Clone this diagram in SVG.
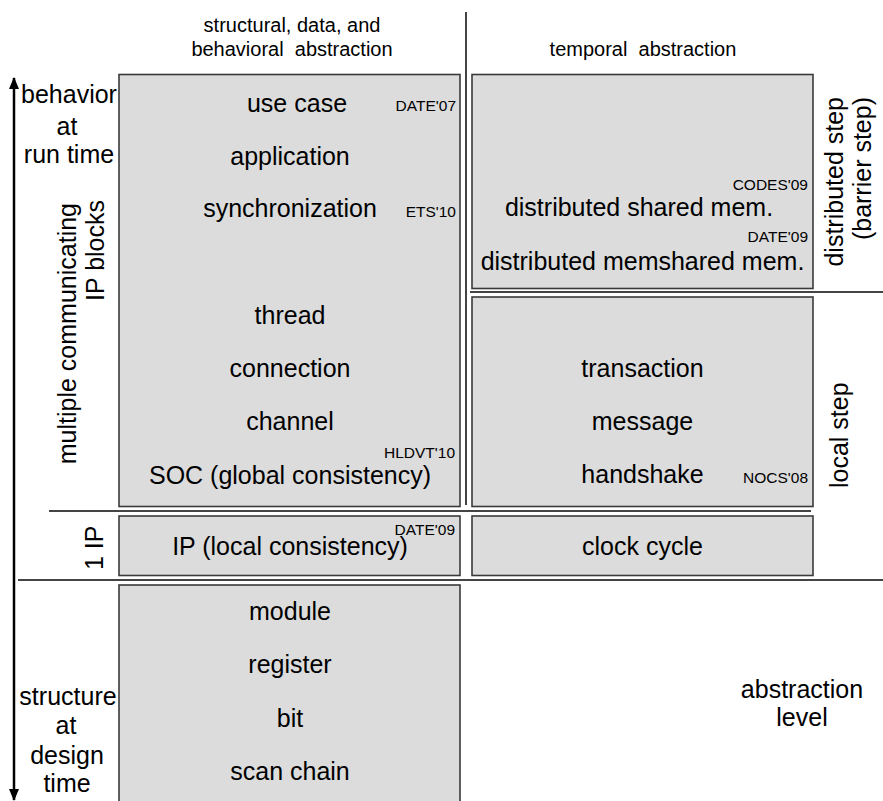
<svg xmlns="http://www.w3.org/2000/svg" width="883" height="801" viewBox="0 0 883 801">
<style>
  text { font-family: "Liberation Sans", Arial, sans-serif; fill: #000; }
  .m { font-size: 25px; text-anchor: middle; }
  .h { font-size: 20px; text-anchor: middle; }
  .s { font-size: 15.5px; text-anchor: end; }
  .box { fill: #dcdcdc; stroke: #3a3a3a; stroke-width: 1.6; }
  .sep { stroke: #444; stroke-width: 2; fill: none; }
</style>
<defs>
  <marker id="ah" viewBox="0 0 12 10" refX="11" refY="5" markerWidth="12" markerHeight="10" markerUnits="userSpaceOnUse" orient="auto-start-reverse">
    <path d="M0,0 L12,5 L0,10 z" fill="#000"/>
  </marker>
</defs>

<g id="headers">
  <text class="h" x="292" y="32">structural, data, and</text>
  <text class="h" x="292" y="56" xml:space="preserve">behavioral  abstraction</text>
  <text class="h" x="643" y="56" xml:space="preserve">temporal  abstraction</text>
</g>

<g id="connectors">
  <line class="sep" x1="466" y1="12" x2="466" y2="505"/>
  <line class="sep" x1="470" y1="292" x2="883" y2="292"/>
  <line class="sep" x1="49" y1="511" x2="811" y2="511"/>
  <line class="sep" x1="18" y1="580" x2="883" y2="580" stroke="#555"/>
  <line x1="14" y1="78" x2="14" y2="800" stroke="#000" stroke-width="2.5" marker-start="url(#ah)" marker-end="url(#ah)"/>
</g>

<g id="axis-labels">
  <text class="m" x="69" y="103">behavior</text>
  <text class="m" x="67" y="135">at</text>
  <text class="m" x="69" y="163">run time</text>
  <text class="m" x="68" y="705">structure</text>
  <text class="m" x="66" y="734">at</text>
  <text class="m" x="67" y="764">design</text>
  <text class="m" x="67" y="792">time</text>
  <text style="font-size:25px;text-anchor:end" transform="translate(76,203) rotate(-90)">multiple communicating</text>
  <text style="font-size:25px;text-anchor:end" transform="translate(104,200) rotate(-90)">IP blocks</text>
  <text style="font-size:25px;text-anchor:start" transform="translate(103,570) rotate(-90)">1 IP</text>
  <text style="font-size:25px;text-anchor:end" transform="translate(843,97) rotate(-90)">distributed step</text>
  <text style="font-size:25px;text-anchor:end" transform="translate(871,97) rotate(-90)">(barrier step)</text>
  <text style="font-size:25px;text-anchor:start" transform="translate(848,488) rotate(-90)">local step</text>
  <text class="m" x="802" y="698">abstraction</text>
  <text class="m" x="802" y="726">level</text>
</g>

<g id="node-structural">
  <rect class="box" x="119" y="74.5" width="341" height="432"/>
  <text class="m" x="297" y="112">use case</text>
  <text class="s" x="456" y="111">DATE'07</text>
  <text class="m" x="290" y="165">application</text>
  <text class="m" x="290" y="217">synchronization</text>
  <text class="s" x="456" y="217">ETS'10</text>
  <text class="m" x="290" y="324">thread</text>
  <text class="m" x="290" y="377">connection</text>
  <text class="m" x="290" y="430">channel</text>
  <text class="s" x="455" y="458">HLDVT'10</text>
  <text class="m" x="290" y="484">SOC (global consistency)</text>
</g>

<g id="node-distributed">
  <rect class="box" x="472" y="74.5" width="341" height="214"/>
  <text class="s" x="808" y="190">CODES'09</text>
  <text class="m" x="639" y="216">distributed shared mem.</text>
  <text class="s" x="808" y="242">DATE'09</text>
  <text class="m" x="642.5" y="270">distributed memshared mem.</text>
</g>

<g id="node-local">
  <rect class="box" x="472" y="297" width="341" height="209.5"/>
  <text class="m" x="642.5" y="377">transaction</text>
  <text class="m" x="642.5" y="430">message</text>
  <text class="m" x="642.5" y="483">handshake</text>
  <text class="s" x="808" y="483">NOCS'08</text>
</g>

<g id="node-ip">
  <rect class="box" x="119" y="516" width="341" height="59.5"/>
  <text class="s" x="455" y="535">DATE'09</text>
  <text class="m" x="290" y="555">IP (local consistency)</text>
</g>

<g id="node-clock">
  <rect class="box" x="472" y="516" width="341" height="59.5"/>
  <text class="m" x="642.5" y="555">clock cycle</text>
</g>

<g id="node-design">
  <rect class="box" x="119" y="585" width="341" height="222"/>
  <text class="m" x="290" y="620">module</text>
  <text class="m" x="290" y="673">register</text>
  <text class="m" x="290" y="727">bit</text>
  <text class="m" x="290" y="780">scan chain</text>
</g>
</svg>
